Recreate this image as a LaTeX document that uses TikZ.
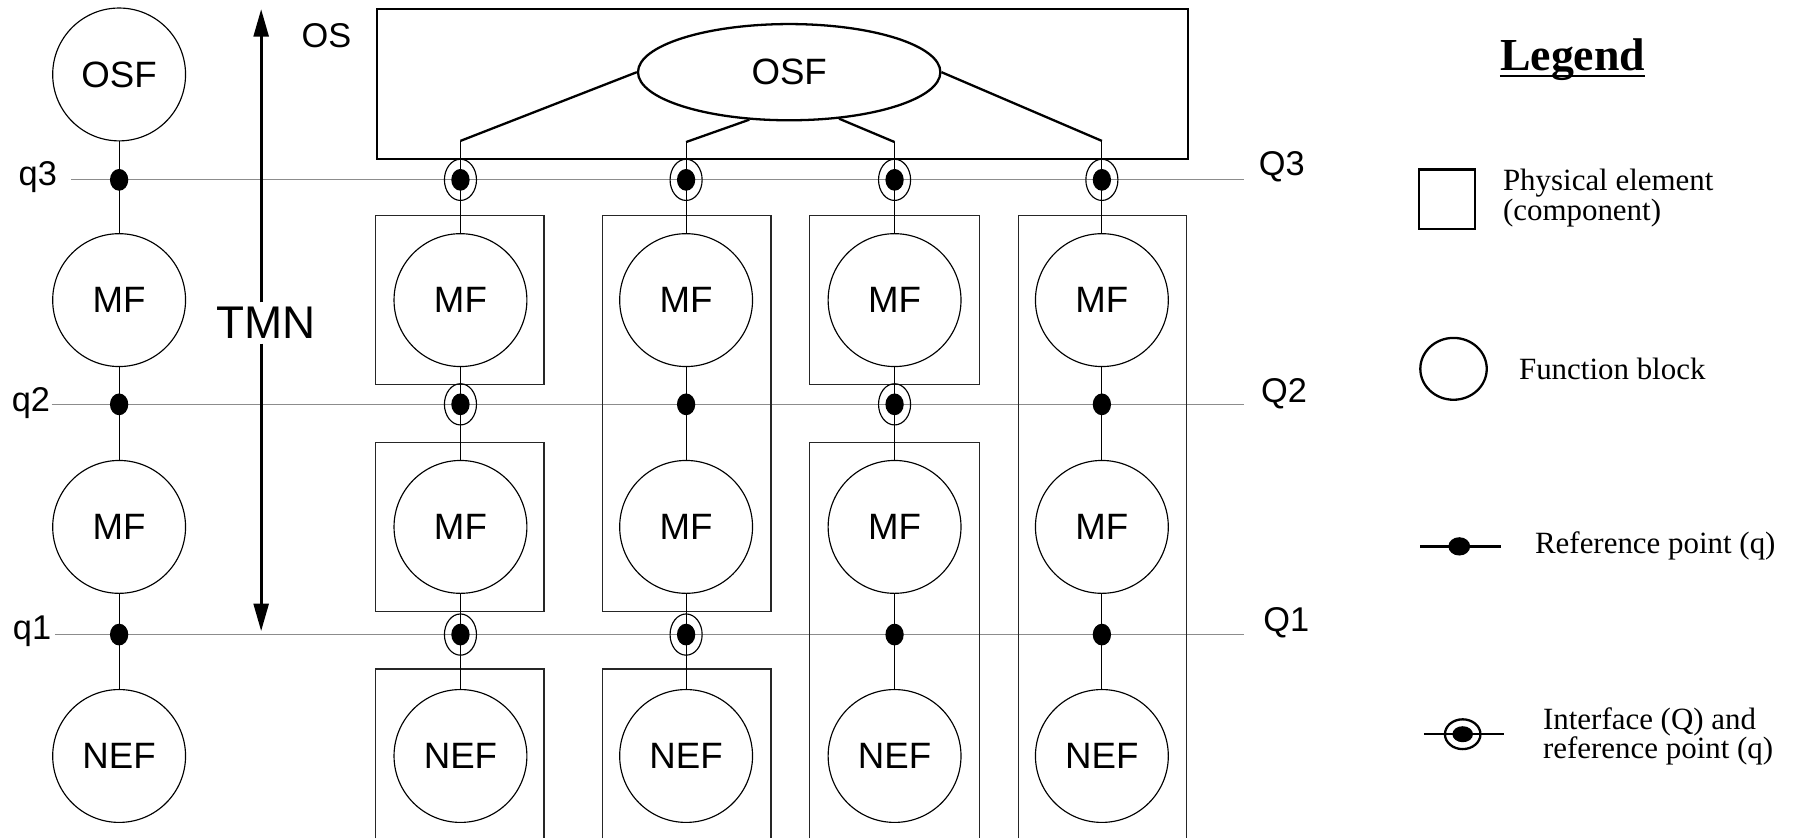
\documentclass[tikz,border=0pt]{standalone}
\usepackage{fontspec}
\setmainfont{Liberation Sans}
\newfontfamily\legfont{Liberation Serif}
\usetikzlibrary{shapes.geometric,arrows.meta}
\begin{document}
\begin{tikzpicture}[x=1pt,y=-1pt,
  fb/.style={circle,draw,line width=1pt,minimum size=116pt,inner sep=0pt,font=\fontsize{32}{32}\selectfont},
  refdot/.style={ellipse,fill=black,minimum width=16pt,minimum height=19pt,inner sep=0pt},
  ifc/.style={ellipse,draw,line width=1pt,minimum width=28pt,minimum height=36pt,inner sep=0pt},
  conn/.style={line width=1pt},
  osconn/.style={line width=2pt},
  qline/.style={draw=black!45,line width=1.1pt},
  pbox/.style={line width=1.1pt,draw=black!85},
  lbl/.style={font=\fontsize{30}{30}\selectfont,inner sep=0pt},
  legtext/.style={font=\legfont\fontsize{27}{26}\selectfont,anchor=west,align=left,inner sep=0pt},
  arr/.style={line width=2.5pt,-{Triangle[length=24pt,width=13pt]}}
]
\useasboundingbox (0,0) rectangle (1568,732);

% reference-point lines
\coordinate (q3s) at (62,157);  \coordinate (q3e) at (1086,157);
\coordinate (q2s) at (45,353);  \coordinate (q2e) at (1086,353);
\coordinate (q1s) at (48,554);  \coordinate (q1e) at (1086,554);
\draw[qline] (q3s) -- (q3e);
\draw[qline] (q2s) -- (q2e);
\draw[qline] (q1s) -- (q1e);
\node[lbl] (q3) at (33,155) {q3};
\node[lbl] (q2) at (27,352) {q2};
\node[lbl] (q1) at (28,551) {q1};
\node[lbl] (Q3) at (1119,146) {Q3};
\node[lbl] (Q2) at (1121,344) {Q2};
\node[lbl] (Q1) at (1123,544) {Q1};

% TMN arrow
\node[font=\fontsize{40}{40}\selectfont,inner sep=4pt] (tmn) at (232,282) {TMN};
\coordinate (tmntop) at (228,8);
\coordinate (tmnbot) at (228,551);
\draw[arr] (tmntop |- tmn.north) -- (tmntop);
\draw[arr] (tmnbot |- tmn.south) -- (tmnbot);

% left column
\node[fb] (Losf) at (104,65) {OSF};
\node[fb] (Lmf2) at (104,262) {MF};
\node[fb] (Lmf1) at (104,460) {MF};
\node[fb] (Lnef) at (104,660) {NEF};
\draw[conn] (Losf) -- (Lmf2);
\draw[conn] (Lmf2) -- (Lmf1);
\draw[conn] (Lmf1) -- (Lnef);
\node[refdot] (Ld3) at (104,157) {};
\node[refdot] (Ld2) at (104,353) {};
\node[refdot] (Ld1) at (104,554) {};

% OS box
\node[lbl] (os) at (285,31) {OS};
\node[draw,line width=2pt,minimum width=708pt,minimum height=131pt,anchor=north west,inner sep=0pt] (osbox) at (328,7) {};
\node[ellipse,draw,line width=2pt,minimum width=264pt,minimum height=84pt,inner sep=0pt,font=\fontsize{32}{32}\selectfont] (osf) at (689,63) {OSF};
\coordinate (t1) at (402,123);
\coordinate (t2) at (599,124);
\coordinate (t3) at (781,124);
\coordinate (t4) at (962,123);
\draw[osconn] (osf.west) -- (t1);
\draw[osconn] (osf.230) -- (t2);
\draw[osconn] (osf.317) -- (t3);
\draw[osconn] (osf.east) -- (t4);

% physical element boxes
\draw[pbox] (328,188) rectangle (475,336);
\draw[pbox] (328,386) rectangle (475,534);
\draw[pbox] (328,732) -- (328,584) -- (475,584) -- (475,732);
\draw[pbox] (526,188) rectangle (673,534);
\draw[pbox] (526,732) -- (526,584) -- (673,584) -- (673,732);
\draw[pbox] (707,188) rectangle (855,336);
\draw[pbox] (707,732) -- (707,386) -- (855,386) -- (855,732);
\draw[pbox] (889,732) -- (889,188) -- (1036,188) -- (1036,732);

% function blocks in columns
\foreach \c/\x in {1/402,2/599,3/781,4/962}{
  \node[fb] (mfa\c) at (\x,262) {MF};
  \node[fb] (mfb\c) at (\x,460) {MF};
  \node[fb] (nef\c) at (\x,660) {NEF};
  \draw[conn] (t\c) -- (mfa\c);
  \draw[conn] (mfa\c) -- (mfb\c);
  \draw[conn] (mfb\c) -- (nef\c);
  \node[ifc] (r3\c) at (\x,157) {};
  \node[refdot] (d3\c) at (\x,157) {};
}
% Q2 row
\node[ifc] (r21) at (402,353) {};
\node[refdot] (d21) at (402,353) {};
\node[refdot] (d22) at (599,353) {};
\node[ifc] (r23) at (781,353) {};
\node[refdot] (d23) at (781,353) {};
\node[refdot] (d24) at (962,353) {};
% Q1 row
\node[ifc] (r11) at (402,554) {};
\node[refdot] (d11) at (402,554) {};
\node[ifc] (r12) at (599,554) {};
\node[refdot] (d12) at (599,554) {};
\node[refdot] (d13) at (781,554) {};
\node[refdot] (d14) at (962,554) {};

% Legend
\node[font=\legfont\fontsize{40}{40}\selectfont\bfseries,inner sep=0pt] (legtitle) at (1373,52) {Legend};
\draw[line width=2.2pt] ([yshift=-5pt]legtitle.base west) -- ([yshift=-5pt]legtitle.base east);
\node[draw,line width=2pt,minimum width=49pt,minimum height=52pt,inner sep=0pt] (legbox) at (1263.5,174) {};
\node[legtext] (legboxt) at (1312,173) {Physical element\\(component)};
\node[ellipse,draw,line width=2pt,minimum width=58pt,minimum height=54pt,inner sep=0pt] (legfb) at (1269,322) {};
\node[legtext] (legfbt) at (1326,322) {Function block};
\coordinate (lr1) at (1240,477);
\coordinate (lr2) at (1310,477);
\draw[line width=2pt] (lr1) -- (lr2);
\node[ellipse,fill=black,minimum width=19pt,minimum height=16pt,inner sep=0pt] (legdot) at (1274,477) {};
\node[legtext] (legdott) at (1340,477) {Reference point (q)};
\coordinate (li1) at (1243,641);
\coordinate (li2) at (1313,641);
\draw[line width=2pt] (li1) -- (li2);
\node[ellipse,draw,line width=2pt,minimum width=31pt,minimum height=26pt,inner sep=0pt] (legring) at (1277,641) {};
\node[ellipse,fill=black,minimum width=18pt,minimum height=14pt,inner sep=0pt] (legrdot) at (1277,641) {};
\node[legtext] (legringt) at (1347,643) {Interface (Q) and\\reference point (q)};
\end{tikzpicture}
\end{document}
